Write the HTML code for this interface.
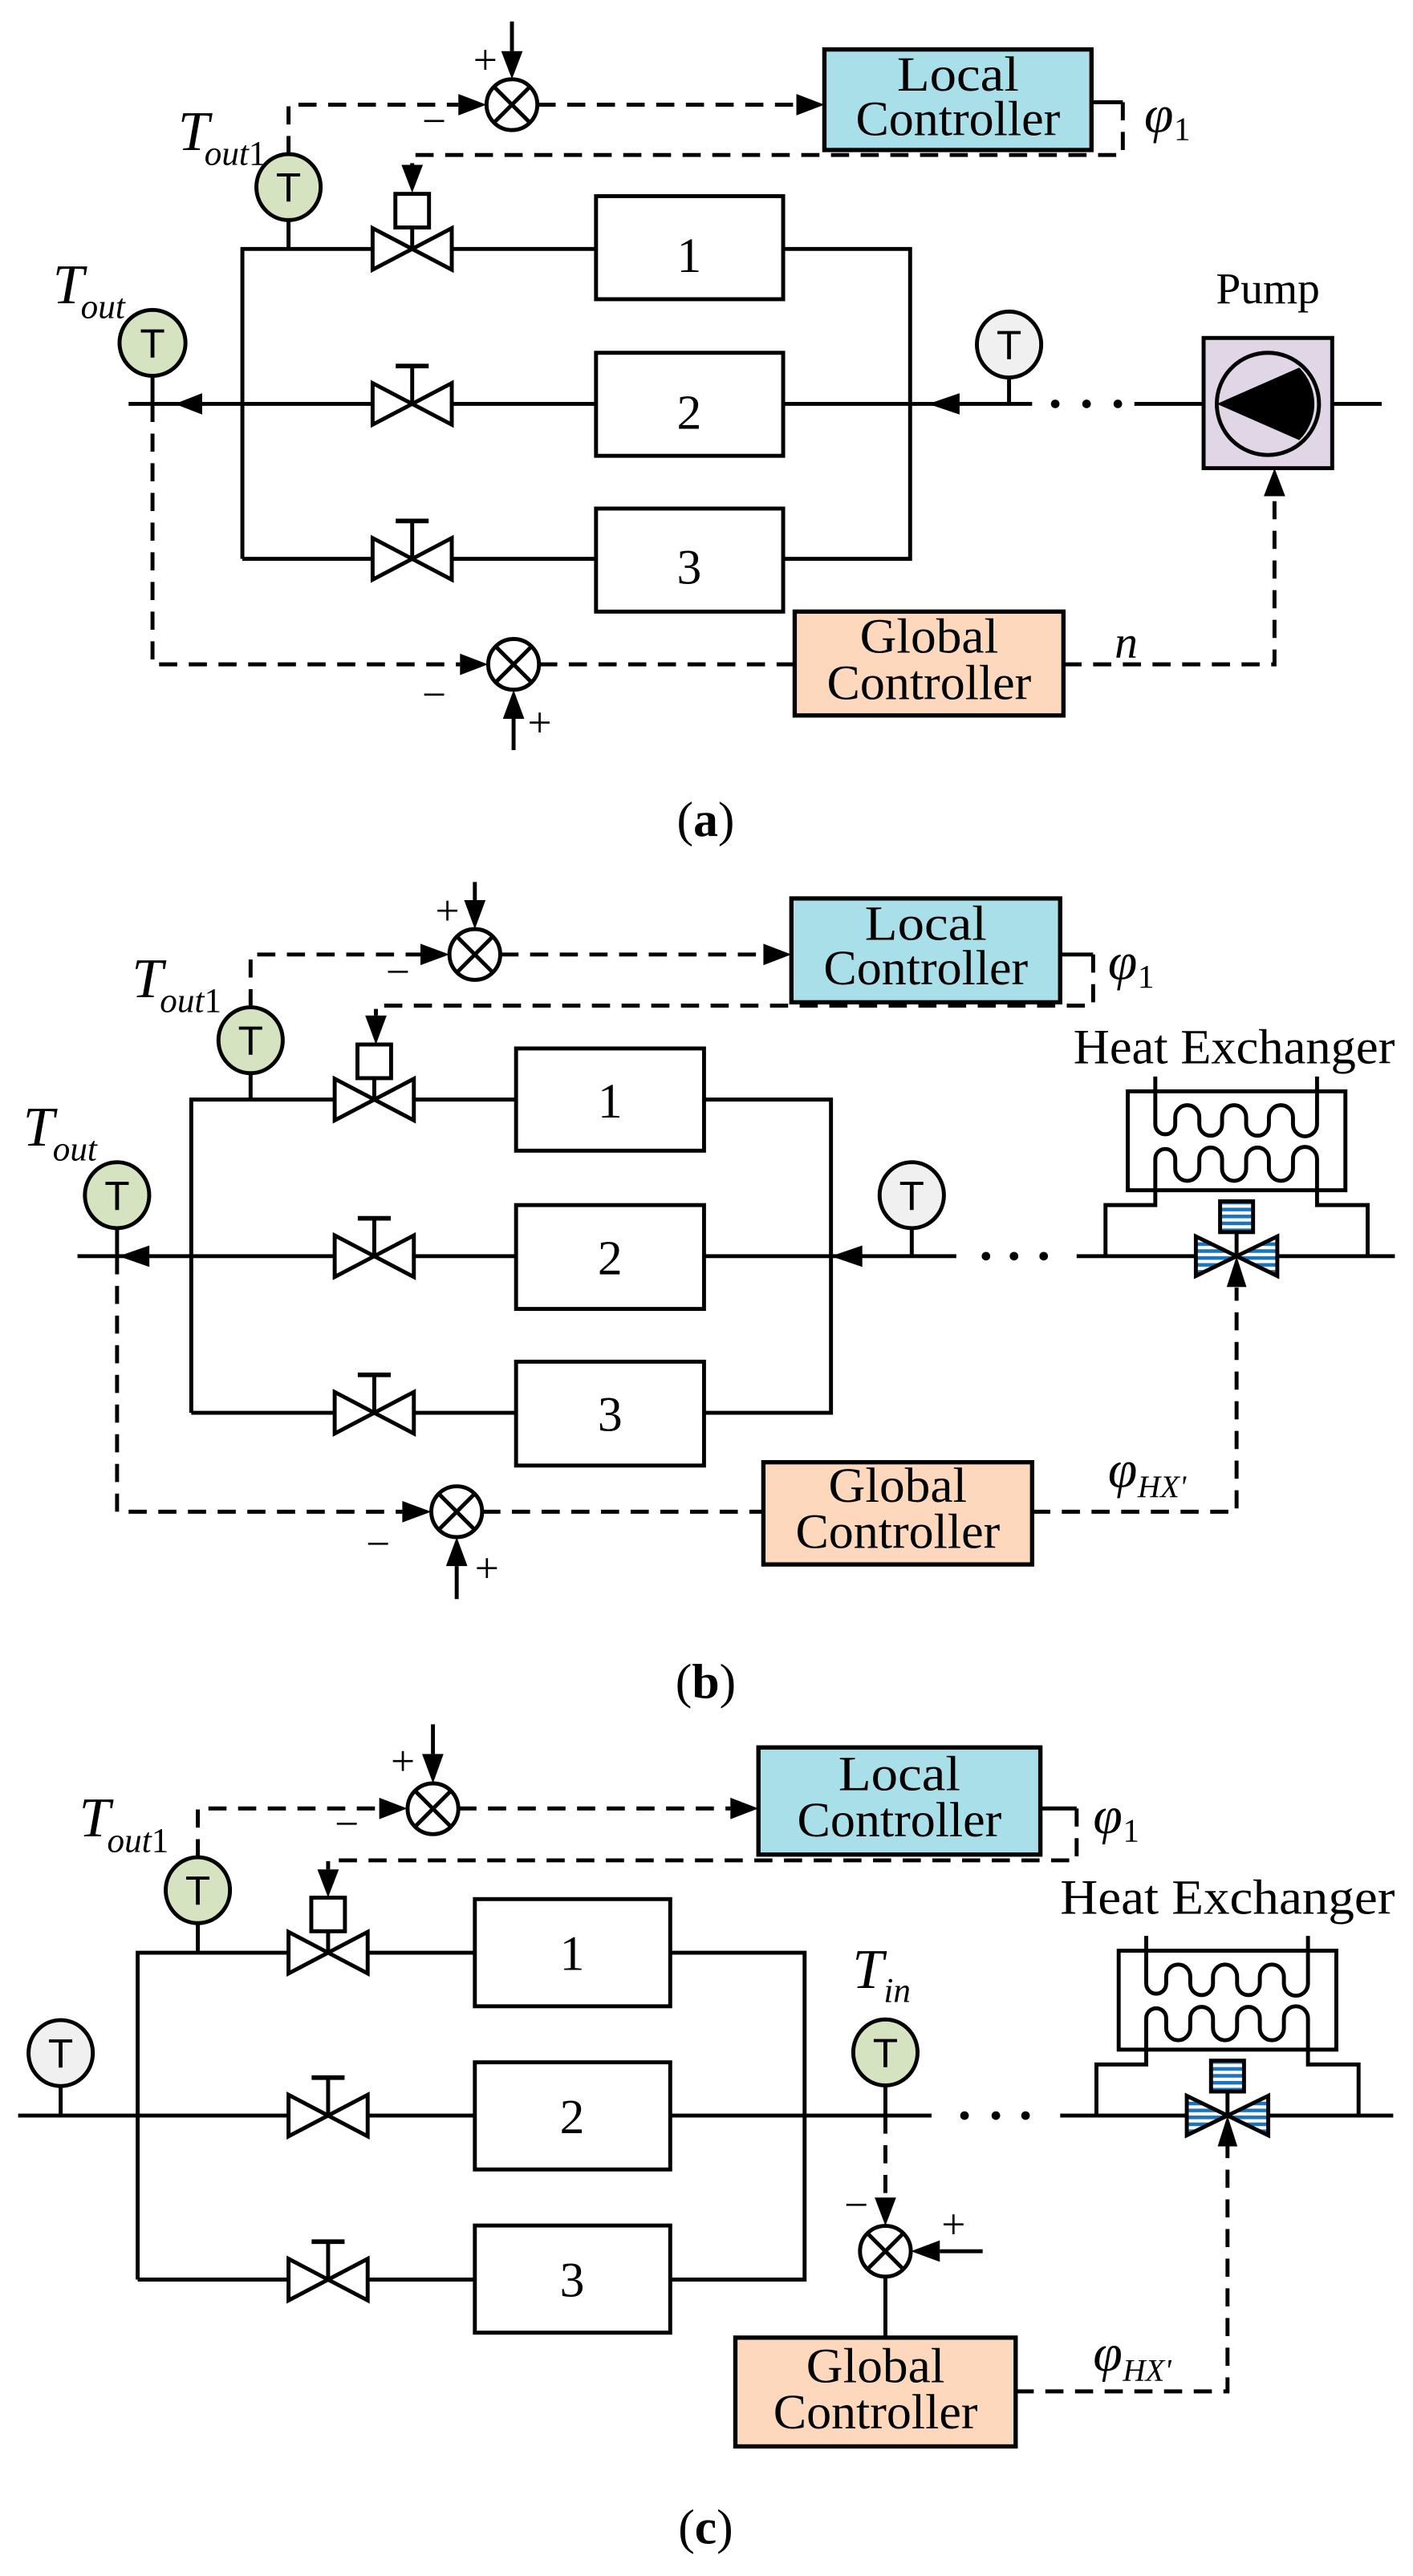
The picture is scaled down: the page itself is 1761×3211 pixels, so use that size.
<!DOCTYPE html>
<html><head><meta charset="utf-8"><style>html,body{margin:0;padding:0;background:#fff}svg{display:block}</style></head>
<body>
<svg width="1761" height="3211" viewBox="0 0 857 1562.6" preserveAspectRatio="none" xmlns="http://www.w3.org/2000/svg">
<defs>
<pattern id="st" width="4" height="4.2" patternUnits="userSpaceOnUse"><rect width="4" height="4.2" fill="#fff"/><rect width="4" height="2.2" fill="#1b75bc"/></pattern>
<g id="bow"><polygon points="-24,-12.6 -24,12.6 24,-12.6 24,12.6" fill="#fff" stroke="#000" stroke-width="2.4" stroke-linejoin="miter"/></g>
<g id="mv"><line x1="0" y1="0" x2="0" y2="-23" stroke="#000" stroke-width="2.4"/><line x1="-10" y1="-23" x2="10" y2="-23" stroke="#000" stroke-width="2.8"/><use href="#bow"/></g>
<g id="av"><line x1="0" y1="0" x2="0" y2="-13" stroke="#000" stroke-width="2.4"/><rect x="-10.2" y="-33.4" width="20.4" height="20.4" fill="#fff" stroke="#000" stroke-width="2.4"/><use href="#bow"/></g>
<g id="sum"><circle r="15.4" fill="#fff" stroke="#000" stroke-width="2.4"/><path d="M-10.9,-10.9L10.9,10.9M10.9,-10.9L-10.9,10.9" stroke="#000" stroke-width="2.4"/></g>
<g id="hx" fill="none" stroke="#000" stroke-width="2.4">
<rect x="-66" y="-100" width="132" height="60" fill="#fff"/>
<path d="M-49.3,-109V-80A6,6 0 0 0 -37.2,-80V-84.3A7.3,7.3 0 0 1 -22.6,-84.3V-80A6.9,6.9 0 0 0 -8.8,-80V-84.3A7.3,7.3 0 0 1 5.8,-84.3V-80A6.9,6.9 0 0 0 19.6,-80V-84.3A7.3,7.3 0 0 1 34.2,-84.3V-80A7.3,7.3 0 0 0 48.8,-80V-109"/>
<path d="M-79.5,0V-31H-49.3V-59A6,6 0 0 1 -37.2,-59V-53A7.3,7.3 0 0 0 -22.6,-53V-59A6.9,6.9 0 0 1 -8.8,-59V-53A7.3,7.3 0 0 0 5.8,-53V-59A6.9,6.9 0 0 1 19.6,-59V-53A7.3,7.3 0 0 0 34.2,-53V-59A7.3,7.3 0 0 1 48.8,-59V-31H79.5V0"/>
<line x1="0" y1="0" x2="0" y2="-14.6"/>
<rect x="-10" y="-33.3" width="20" height="18.7" fill="url(#st)"/>
<polygon points="-24.7,-12 -24.7,12 0,0" fill="url(#st)"/>
<polygon points="24.7,-12 24.7,12 0,0" fill="url(#st)"/>
<polygon points="0,0 -6,18.7 6,18.7" fill="#000" stroke="none"/>
</g>
</defs>

<g font-family="Liberation Serif, serif" fill="#000">
<!-- ================= PANEL A ================= -->
<g fill="none" stroke="#000" stroke-width="2.4">
<path d="M147,339V151H361.5M475,151H552V339H475M361.5,339H147"/>
<path d="M78,245H361.5M475,245H626M688,245H730M808,245H838"/>
<path d="M92.5,228V245M175,133.5V151M612,229V245"/>
<rect x="361.5" y="119" width="113.5" height="62.5" fill="#fff"/>
<rect x="361.5" y="214" width="113.5" height="62.5" fill="#fff"/>
<rect x="361.5" y="308.5" width="113.5" height="62.5" fill="#fff"/>
<path d="M310.5,13V31M311.5,455V436M662,62H681"/>
</g>
<use href="#av" x="250" y="151"/><use href="#mv" x="250" y="245"/><use href="#mv" x="250" y="339"/>
<polygon points="106,245 122.6,238.5 122.6,251.5"/><polygon points="563,245 582,238.5 582,251.5"/>
<circle cx="640" cy="245" r="2.6"/><circle cx="659" cy="245" r="2.6"/><circle cx="678" cy="245" r="2.6"/>
<rect x="730" y="205" width="78" height="79" fill="#e0d6e6" stroke="#000" stroke-width="2.4"/>
<circle cx="769" cy="245" r="31" fill="#e0d6e6" stroke="#000" stroke-width="2.4"/>
<path d="M738,245L788,223A31,31 0 0 1 788,267Z"/>
<g fill="none" stroke="#000" stroke-width="2.4" stroke-dasharray="11,7">
<path d="M175,93.5V63.5H278M326,63.5H483"/>
<path d="M681,62V94H250V100"/>
<path d="M92.5,245V403H279M327,403H482"/>
<path d="M645,403H773V301"/>
</g>
<polygon points="310.5,48 304,31 317,31"/><polygon points="295,63.5 278,57 278,70"/><polygon points="500,63.5 483,57 483,70"/>
<polygon points="250,117 243.5,100 256.5,100"/><polygon points="296,403 279,396.5 279,409.5"/>
<polygon points="311.5,418.5 305,436 318,436"/><polygon points="773,284 766.5,301 779.5,301"/>
<use href="#sum" x="310.5" y="63.5"/><use href="#sum" x="311.5" y="403"/>
<rect x="500" y="30" width="162" height="61" fill="#a8dfe9" stroke="#000" stroke-width="2.6"/>
<rect x="482" y="371" width="163" height="63" fill="#fdd8bd" stroke="#000" stroke-width="2.6"/>
<g fill="#d5e3c0" stroke="#000" stroke-width="2.4"><ellipse cx="175" cy="113.5" rx="19.5" ry="20"/><ellipse cx="92.5" cy="208" rx="20" ry="20"/></g>
<ellipse cx="612" cy="209" rx="19.5" ry="20" fill="#f0f0f0" stroke="#000" stroke-width="2.4"/>
<g font-family="Liberation Sans, sans-serif" font-size="25" text-anchor="middle"><text x="175" y="122.5">T</text><text x="92.5" y="217">T</text><text x="612" y="218">T</text></g>
<g font-size="30" text-anchor="middle">
<text x="581" y="55" textLength="74" lengthAdjust="spacingAndGlyphs">Local</text>
<text x="581" y="82" textLength="124" lengthAdjust="spacingAndGlyphs">Controller</text>
<text x="563.5" y="396" textLength="84" lengthAdjust="spacingAndGlyphs">Global</text>
<text x="563.5" y="424" textLength="124" lengthAdjust="spacingAndGlyphs">Controller</text>
<text x="418" y="165">1</text><text x="418" y="260">2</text><text x="418" y="354">3</text>
<text x="769" y="184" font-size="27">Pump</text>
<text x="428" y="507">(<tspan font-weight="bold">a</tspan>)</text>
</g>
<g font-style="italic">
<text x="108" y="91" font-size="34">T</text><text x="124" y="100" font-size="21">out<tspan font-style="normal">1</tspan></text>
<text x="32" y="184" font-size="34">T</text><text x="49" y="193" font-size="21">out</text>
<text x="694" y="80" font-size="32">φ</text><text x="712" y="85" font-size="20" font-style="normal">1</text>
<text x="676" y="399" font-size="28">n</text>
</g>
<g font-size="26"><text x="287" y="45">+</text><text x="256" y="82">−</text><text x="256" y="430">−</text><text x="320" y="447">+</text></g>

<!-- ================= PANEL B ================= -->
<g fill="none" stroke="#000" stroke-width="2.4">
<path d="M116,857V667H313M427,667H504V857H427M313,857H116"/>
<path d="M47,762H313M427,762H580M653,762H846"/>
<path d="M71,745V762M152,651V667M553,745V762"/>
<rect x="313" y="636" width="114" height="62" fill="#fff"/>
<rect x="313" y="731" width="114" height="63" fill="#fff"/>
<rect x="313" y="826" width="114" height="63" fill="#fff"/>
<path d="M288,535V546M277,970V950M643,579H663"/>
</g>
<use href="#av" x="227" y="667"/><use href="#mv" x="227" y="762"/><use href="#mv" x="227" y="857"/>
<polygon points="72,762 90.6,755.5 90.6,768.5"/><polygon points="504,762 523,755.5 523,768.5"/>
<circle cx="598" cy="762" r="2.6"/><circle cx="615" cy="762" r="2.6"/><circle cx="633" cy="762" r="2.6"/>
<use href="#hx" x="750" y="762"/>
<g fill="none" stroke="#000" stroke-width="2.4" stroke-dasharray="11,7">
<path d="M152,611V579H255M303.5,579H463"/>
<path d="M663,579V610H228V616"/>
<path d="M71,762V917H244M292.5,917H463"/>
<path d="M626,917H750V781"/>
</g>
<polygon points="288,563.6 281.5,546 294.5,546"/><polygon points="272.6,579 255,572.5 255,585.5"/><polygon points="480,579 463,572.5 463,585.5"/>
<polygon points="228,633.6 221.5,616 234.5,616"/><polygon points="261.6,917 244,910.5 244,923.5"/>
<polygon points="277,932.4 270.5,950 283.5,950"/>
<use href="#sum" x="288" y="579"/><use href="#sum" x="277" y="917"/>
<rect x="480" y="545" width="163" height="63" fill="#a8dfe9" stroke="#000" stroke-width="2.6"/>
<rect x="463" y="887" width="163" height="62" fill="#fdd8bd" stroke="#000" stroke-width="2.6"/>
<g fill="#d5e3c0" stroke="#000" stroke-width="2.4"><ellipse cx="152" cy="631" rx="19.5" ry="20"/><ellipse cx="71" cy="725" rx="19.5" ry="20"/></g>
<ellipse cx="553" cy="725" rx="19.5" ry="20" fill="#f0f0f0" stroke="#000" stroke-width="2.4"/>
<g font-family="Liberation Sans, sans-serif" font-size="25" text-anchor="middle"><text x="152" y="640">T</text><text x="71" y="734">T</text><text x="553" y="734">T</text></g>
<g font-size="30" text-anchor="middle">
<text x="561.5" y="570" textLength="74" lengthAdjust="spacingAndGlyphs">Local</text>
<text x="561.5" y="597" textLength="124" lengthAdjust="spacingAndGlyphs">Controller</text>
<text x="544.5" y="911" textLength="84" lengthAdjust="spacingAndGlyphs">Global</text>
<text x="544.5" y="939" textLength="124" lengthAdjust="spacingAndGlyphs">Controller</text>
<text x="370" y="678">1</text><text x="370" y="773">2</text><text x="370" y="868">3</text>
<text x="748.5" y="645" textLength="195" lengthAdjust="spacingAndGlyphs">Heat Exchanger</text>
<text x="428" y="1030">(<tspan font-weight="bold">b</tspan>)</text>
</g>
<g font-style="italic">
<text x="80" y="605" font-size="34">T</text><text x="97" y="614" font-size="21">out<tspan font-style="normal">1</tspan></text>
<text x="14" y="695" font-size="34">T</text><text x="32" y="704" font-size="21">out</text>
<text x="672" y="594" font-size="32">φ</text><text x="690" y="599" font-size="20" font-style="normal">1</text>
<text x="672" y="902" font-size="32">φ</text><text x="690" y="908" font-size="19">HX'</text>
</g>
<g font-size="26"><text x="264" y="561">+</text><text x="234" y="598">−</text><text x="222" y="945">−</text><text x="288" y="960">+</text></g>

<!-- ================= PANEL C ================= -->
<g fill="none" stroke="#000" stroke-width="2.4">
<path d="M83.5,1382.8V1184.5H288M406.5,1184.5H488V1382.8H406.5M288,1382.8H83.5"/>
<path d="M11,1283.3H288M406.5,1283.3H565M643,1283.3H845"/>
<path d="M36.8,1265.4V1283.3M120,1166.6V1184.5M537,1265V1283.3"/>
<rect x="288" y="1152" width="118.5" height="65" fill="#fff"/>
<rect x="288" y="1251" width="118.5" height="65" fill="#fff"/>
<rect x="288" y="1350" width="118.5" height="65" fill="#fff"/>
<path d="M262.6,1046V1064M596,1365.6H570M537,1381V1418M631,1097H653"/>
</g>
<use href="#av" x="199" y="1184.5"/><use href="#mv" x="199" y="1283.3"/><use href="#mv" x="199" y="1382.8"/>
<circle cx="585" cy="1283.3" r="2.6"/><circle cx="604" cy="1283.3" r="2.6"/><circle cx="622" cy="1283.3" r="2.6"/>
<use href="#hx" x="744.5" y="1283.3"/>
<g fill="none" stroke="#000" stroke-width="2.4" stroke-dasharray="11,7">
<path d="M120,1126.6V1097H230M278,1097H443"/>
<path d="M653,1097V1128.5H199V1134"/>
<path d="M537,1283.3V1333"/>
<path d="M616,1450.6H744.5V1302"/>
</g>
<polygon points="262.6,1081.8 256,1064 269,1064"/><polygon points="247,1097 230,1090.5 230,1103.5"/><polygon points="460,1097 443,1090.5 443,1103.5"/>
<polygon points="199,1151 192.5,1134 205.5,1134"/><polygon points="537,1350.2 530.5,1333 543.5,1333"/>
<polygon points="552.5,1365.6 570,1359 570,1372"/>
<use href="#sum" x="262.6" y="1097.2"/><use href="#sum" x="537" y="1365.6"/>
<rect x="460" y="1060" width="171" height="65" fill="#a8dfe9" stroke="#000" stroke-width="2.6"/>
<rect x="446" y="1418" width="170" height="66" fill="#fdd8bd" stroke="#000" stroke-width="2.6"/>
<g fill="#d5e3c0" stroke="#000" stroke-width="2.4"><ellipse cx="120" cy="1146.6" rx="19.5" ry="20"/><ellipse cx="537" cy="1245" rx="19.5" ry="20"/></g>
<ellipse cx="36.8" cy="1245.4" rx="19.5" ry="20" fill="#f0f0f0" stroke="#000" stroke-width="2.4"/>
<g font-family="Liberation Sans, sans-serif" font-size="25" text-anchor="middle"><text x="120" y="1155.6">T</text><text x="537" y="1254">T</text><text x="36.8" y="1254.4">T</text></g>
<g font-size="30" text-anchor="middle">
<text x="545.5" y="1086" textLength="74" lengthAdjust="spacingAndGlyphs">Local</text>
<text x="545.5" y="1114" textLength="124" lengthAdjust="spacingAndGlyphs">Controller</text>
<text x="531" y="1445" textLength="84" lengthAdjust="spacingAndGlyphs">Global</text>
<text x="531" y="1473" textLength="124" lengthAdjust="spacingAndGlyphs">Controller</text>
<text x="347" y="1195">1</text><text x="347" y="1294">2</text><text x="347" y="1393">3</text>
<text x="744.5" y="1161" textLength="203" lengthAdjust="spacingAndGlyphs">Heat Exchanger</text>
<text x="428" y="1543">(<tspan font-weight="bold">c</tspan>)</text>
</g>
<g font-style="italic">
<text x="48" y="1114" font-size="34">T</text><text x="65" y="1123.5" font-size="21">out<tspan font-style="normal">1</tspan></text>
<text x="517" y="1206" font-size="34">T</text><text x="536" y="1214.5" font-size="21">in</text>
<text x="663" y="1112" font-size="32">φ</text><text x="681" y="1117" font-size="20" font-style="normal">1</text>
<text x="663" y="1438" font-size="32">φ</text><text x="681" y="1444" font-size="19">HX'</text>
</g>
<g font-size="26"><text x="237" y="1077">+</text><text x="203" y="1115">−</text><text x="512" y="1346">−</text><text x="571" y="1358">+</text></g>
</g>
</svg>
</body></html>
